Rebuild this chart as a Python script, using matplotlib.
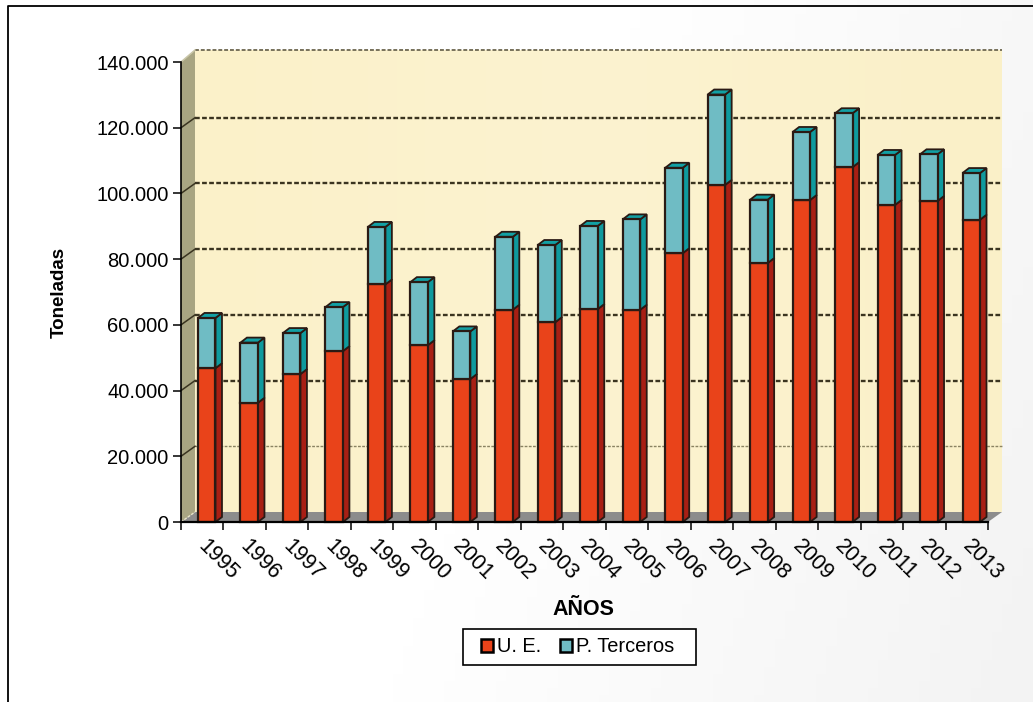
import numpy as np
import matplotlib
matplotlib.use("Agg")
import matplotlib.pyplot as plt
from matplotlib.patches import Polygon, Rectangle
from matplotlib.colors import LinearSegmentedColormap

years = ["1995", "1996", "1997", "1998", "1999", "2000", "2001", "2002", "2003", "2004",
         "2005", "2006", "2007", "2008", "2009", "2010", "2011", "2012", "2013"]
ue = [46800, 36300, 45000, 52000, 72300, 53800, 43500, 64600, 60800, 64800,
      64600, 81800, 102600, 78800, 98000, 108000, 96500, 97700, 92000]
terceros = [15300, 18300, 12500, 13400, 17500, 19200, 14500, 22200, 23500, 25300,
            27500, 26000, 27500, 19300, 20700, 16400, 15200, 14200, 14200]
y_ticks = [0, 20000, 40000, 60000, 80000, 100000, 120000, 140000]
y_labels = ["0", "20.000", "40.000", "60.000", "80.000", "100.000", "120.000", "140.000"]

W, H = 1033, 702
plt.rcParams["font.family"] = ["Liberation Sans", "DejaVu Sans"]

fig = plt.figure(figsize=(W / 100, H / 100), dpi=100)

# background with the soft grey corner
bg = fig.add_axes([0, 0, 1, 1], zorder=0)
bg.axis("off")
cmap_bg = LinearSegmentedColormap.from_list("bg", ["#ffffff", "#ffffff", "#f3f3f3"])
xx, yy = np.meshgrid(np.linspace(0, 1, 100), np.linspace(0, 1, 100))
bg.imshow(xx * 0.8 + yy * 0.2, cmap=cmap_bg, extent=[0, W, H, 0], aspect="auto")
bg.plot([8, 8, W], [H, 6, 6], color="black", lw=1.3)
# legend box
bg.add_patch(Rectangle((463, 629), 233, 36, fc="white", ec="black", lw=1.2))
bg.set_xlim(0, W)
bg.set_ylim(H, 0)

# axes sit on the front plane of the fake 3d box
ax = fig.add_axes([181 / W, 1 - 522 / H, 807 / W, 460 / H], zorder=1)
ax.patch.set_visible(False)

# depth of the box and of the bars, in data units
n = len(years)
px_x = n / 807
px_y = 140000 / 460
dx, dy = 14 * px_x, 10 * px_y
top_dy = 12 * px_y
bdx, bdy = 6.5 * px_x, 5 * px_y

# back wall
cmap_wall = LinearSegmentedColormap.from_list("wall", ["#fbf1c9", "#fcf3d0", "#faf0c8"])
ax.imshow(np.linspace(0, 1, 200).reshape(1, -1), cmap=cmap_wall, aspect="auto", zorder=1,
          extent=[dx, n + dx, dy, 140000 + top_dy], clip_on=False)
ax.set_xlim(0, n)
ax.set_ylim(0, 140000)

# side wall and floor
ax.add_patch(Polygon([(0, 0), (dx, dy), (dx, 140000 + top_dy), (0, 140000)], closed=True,
                     fc="#a8a582", ec="none", zorder=2, clip_on=False))
ax.add_patch(Polygon([(0, 0), (n, 0), (n + dx, dy), (dx, dy)], closed=True,
                     fc="#8c8c8c", ec="none", zorder=2, clip_on=False))
ax.plot([0, dx], [0, dy], color="#e8e4c8", lw=1, ls=(0, (2, 1)), zorder=3, clip_on=False)

# gridlines on the wall with the short slant on the side wall
for t in y_ticks[1:]:
    if t == 20000:
        lw, col = 1.0, "#8a8362"
    elif t == 140000:
        lw, col = 1.4, "#77715a"
    else:
        lw, col = 1.7, "#3a3420"
    y_back = t + (top_dy if t == 140000 else dy)
    ax.plot([dx, n + dx], [y_back, y_back], color=col, lw=lw, ls=(0, (2, 1)), zorder=3, clip_on=False)
    ax.plot([0, dx], [t, y_back], color="#3a3420" if t < 140000 else "#c9c6a8", lw=1.1, zorder=3, clip_on=False)


def box(x0, x1, y0, y1, front, side, top=None):
    ec = "#2a1a14"
    ax.add_patch(Polygon([(x1, y0), (x1 + bdx, y0 + bdy), (x1 + bdx, y1 + bdy), (x1, y1)], closed=True,
                         fc=side, ec=ec, lw=1.3, zorder=5, clip_on=False))
    if top is not None:
        ax.add_patch(Polygon([(x0, y1), (x1, y1), (x1 + bdx, y1 + bdy), (x0 + bdx, y1 + bdy)], closed=True,
                             fc=top, ec=ec, lw=1.3, zorder=5, clip_on=False))
    ax.add_patch(Rectangle((x0, y0), x1 - x0, y1 - y0, fc=front, ec=ec, lw=1.6, zorder=5, clip_on=False))


offset = 0.40
bar_w = 17.5 * px_x
for i in range(n):
    x0 = i + offset
    box(x0, x0 + bar_w, 0, ue[i], "#e9431a", "#a81f14")
    box(x0, x0 + bar_w, ue[i], ue[i] + terceros[i], "#6fbcc4", "#0f9a9e", "#12a0a4")

# axis lines and ticks
for s in ["top", "right"]:
    ax.spines[s].set_visible(False)
ax.spines["left"].set_zorder(6)
ax.spines["left"].set_linewidth(1.2)
ax.spines["bottom"].set_zorder(6)
ax.spines["bottom"].set_linewidth(1.6)
ax.set_yticks(y_ticks)
ax.set_yticklabels(y_labels, fontsize=14.5)
ax.set_xticks(np.arange(n + 1))
ax.set_xticklabels([])
ax.tick_params(axis="y", length=6, width=1.1, pad=3)
ax.tick_params(axis="x", length=6, width=1.1)
for i, year in enumerate(years):
    ax.text(i + 0.87, -11500, year, rotation=-45, ha="center", va="center", fontsize=15.5,
            rotation_mode="anchor", clip_on=False)

ax.set_ylabel("Toneladas", fontsize=13.5, fontweight="bold", labelpad=20)
ax.text(n / 2 - 0.03, -26700, "AÑOS", ha="center", va="center", fontsize=15.5, fontweight="bold")

# legend
handles = [Rectangle((0, 0), 1, 1, fc="#e9431a", ec="black", lw=1.8),
           Rectangle((0, 0), 1, 1, fc="#6fbcc4", ec="black", lw=1.8)]
leg = fig.legend(handles, ["U. E.", "P. Terceros"], loc="center", bbox_to_anchor=(577.5 / W, 1 - 647 / H),
                 ncol=2, fontsize=14.4, frameon=False,
                 handlelength=0.58, handleheight=0.58, handletextpad=0.2, columnspacing=0.95,
                 borderpad=0, borderaxespad=0)

fig.savefig("out.png", dpi=100)
